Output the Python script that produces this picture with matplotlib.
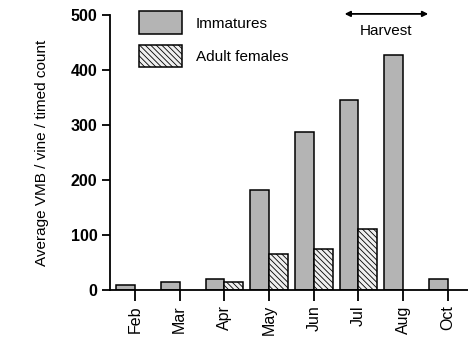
import matplotlib
matplotlib.use("Agg")
import matplotlib.pyplot as plt
import numpy as np

plt.rcParams['font.family'] = ['Liberation Sans', 'DejaVu Sans']
plt.rcParams['hatch.color'] = '#a0a0a0'
plt.rcParams['hatch.linewidth'] = 0.6

months = ['Feb', 'Mar', 'Apr', 'May', 'Jun', 'Jul', 'Aug', 'Oct']
immatures = [8, 15, 20, 182, 288, 345, 427, 20]
adult_females = [0, 0, 15, 65, 75, 110, 0, 0]

fig = plt.figure(figsize=(4.68, 3.41), dpi=100)
ax = fig.add_axes([0.235, 0.15, 0.765, 0.806])

x = np.arange(len(months))
w = 0.42

ax.bar(x, immatures, -w, align='edge', color='#b4b4b4', edgecolor='black',
       linewidth=1.1, label='Immatures')
adult_x = [xi for xi, v in zip(x, adult_females) if v > 0]
adult_v = [v for v in adult_females if v > 0]
ax.bar(adult_x, adult_v, w, align='edge', color='#efefef', edgecolor='black',
       linewidth=1.1, hatch='\\\\\\\\\\\\', label='Adult females')

ax.set_xlim(-0.56, 7.45)
ax.set_ylim(0, 500)
ax.set_yticks([0, 100, 200, 300, 400, 500])
ax.set_yticklabels(['0', '100', '200', '300', '400', '500'], fontweight='bold', fontsize=11.5)
ax.set_xticks(x)
ax.set_xticklabels(months, rotation=90, fontsize=11.5)

for s in ['top', 'right']:
    ax.spines[s].set_visible(False)
ax.spines['left'].set_linewidth(1.3)
ax.spines['bottom'].set_linewidth(1.3)
ax.tick_params(axis='y', direction='out', length=6, width=1.3, pad=3)
ax.tick_params(axis='x', direction='out', length=8, width=1.3, pad=3)

ax.set_ylabel('Average VMB / vine / timed count', fontsize=11, labelpad=16)

ax.legend(loc='upper left', bbox_to_anchor=(0.065, 1.035), frameon=False,
          fontsize=11, handlelength=2.8, handleheight=1.9, labelspacing=0.7,
          handletextpad=0.9, borderaxespad=0)

ax.annotate('', xy=(4.69, 502), xytext=(6.56, 502),
            arrowprops=dict(arrowstyle='<|-|>', color='black', lw=1.3,
                            mutation_scale=8, shrinkA=0, shrinkB=0),
            annotation_clip=False)
ax.text(5.62, 470, 'Harvest', ha='center', va='center', fontsize=11)

fig.savefig('out.png', dpi=100)
